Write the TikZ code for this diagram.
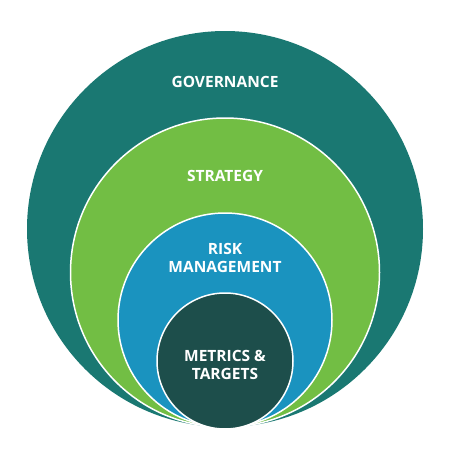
\documentclass[tikz,border=0pt]{standalone}
\usepackage{fontspec}
\setmainfont{Open Sans}
\definecolor{govcol}{HTML}{1A7872}
\definecolor{stratcol}{HTML}{72BE44}
\definecolor{riskcol}{HTML}{1A93BF}
\definecolor{metcol}{HTML}{1D4E4B}
\tikzset{
  ring/.style={circle, draw=white, line width=1.5pt, inner sep=0pt, outer sep=0pt},
  caption/.style={text=white, font=\bfseries\fontsize{15.5}{18}\selectfont, align=center, inner sep=0pt}
}

\begin{document}
\begin{tikzpicture}[x=1pt,y=-1pt]
\useasboundingbox (0,0) rectangle (450,450);
\node[ring, draw=none, fill=govcol, minimum size=396pt] (gov) at (225,229) {};
\node[ring, fill=stratcol, minimum size=309pt] (strat) at (225,272.5) {};
\node[ring, fill=riskcol, minimum size=214pt] (risk) at (225,320) {};
\node[ring, fill=metcol, minimum size=136pt] (met) at (225,361) {};
\node[caption] (govtext) at (225,82) {GOVERNANCE};
\node[caption] (strattext) at (225,176) {STRATEGY};
\node[caption] (risktext) at (225,258) {RISK\\MANAGEMENT};
\node[caption] (mettext) at (225,365) {METRICS \&\\TARGETS};
\end{tikzpicture}
\end{document}
